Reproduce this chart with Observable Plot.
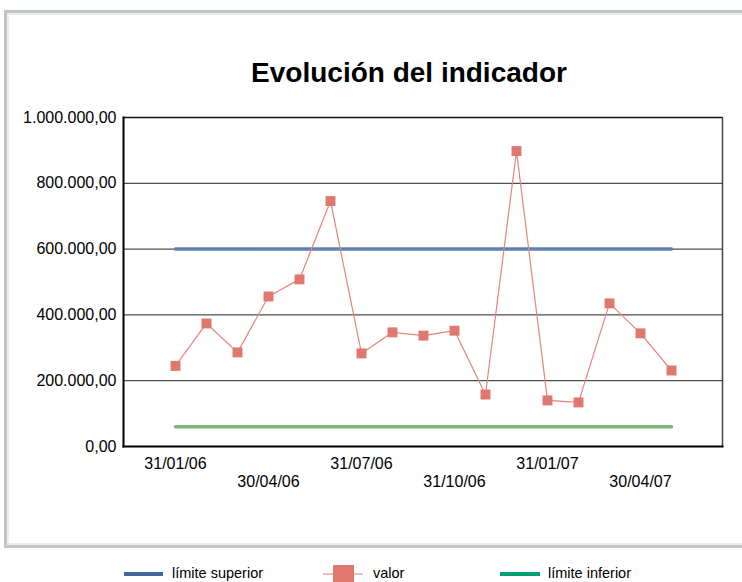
<!DOCTYPE html>
<html>
<head>
<meta charset="utf-8">
<script src="https://cdn.jsdelivr.net/npm/d3@7"></script>
<script src="https://cdn.jsdelivr.net/npm/@observablehq/plot@0.6"></script>
<style>
  html, body { margin: 0; padding: 0; background: #fff; }
  body { width: 742px; height: 582px; position: relative; overflow: hidden; font-family: "Liberation Sans", Arial, sans-serif; }
  #frame { position: absolute; left: 4px; top: 10px; width: 760px; height: 532px;
           border-left: 3px solid #c4c4c4; border-top: 3px solid #c4c4c4; border-bottom: 3px solid #c4c4c4;
           box-shadow: inset 2px 2px 0 #e6edf7, inset 0 -2px 0 #e6edf7; }
  #title { position: absolute; left: 0; width: 818px; top: 57px; text-align: center;
           font-weight: bold; font-size: 28px; color: #000; }
  #chart { position: absolute; left: 0; top: 0; }
  #legend { position: absolute; left: 0; top: 562px; width: 742px; height: 22px; }
  #legend .item { position: absolute; top: 0; height: 22px; display: flex; align-items: center; font-size: 14.5px; color: #000; }
</style>
</head>
<body>
<div id="frame"></div>
<div id="title">Evolución del indicador</div>
<div id="chart"></div>
<div id="legend"></div>
<script>
// ---- data ----
const dates = ["31/01/06","28/02/06","31/03/06","30/04/06","31/05/06","30/06/06","31/07/06","31/08/06","30/09/06","31/10/06","30/11/06","31/12/06","31/01/07","28/02/07","31/03/07","30/04/07","31/05/07"];
const valor = [245000, 374000, 286000, 456000, 508000, 746000, 283000, 347000, 337000, 352000, 158000, 898000, 140000, 134000, 435000, 344000, 231000];
const limiteSuperior = 600000;
const limiteInferior = 60000;
const yTicks = [0, 200000, 400000, 600000, 800000, 1000000];
const xLabelsRow1 = ["31/01/06", "31/07/06", "31/01/07"];
const xLabelsRow2 = ["30/04/06", "31/10/06", "30/04/07"];
const seriesNames = ["límite superior", "valor", "límite inferior"];

const rows = dates.map((d, i) => ({date: d, valor: valor[i], sup: limiteSuperior, inf: limiteInferior}));

const es = d3.formatLocale({decimal: ",", thousands: ".", grouping: [3], currency: ["", "€"]});
const fmt = es.format(",.2f");

const font = "Liberation Sans, Arial, sans-serif";

const chart = Plot.plot({
  width: 742,
  height: 500,
  marginLeft: 123,
  marginRight: 20,
  marginTop: 117,
  marginBottom: 54,
  style: {fontFamily: font, fontSize: "16px", background: "transparent", color: "#000"},
  x: {type: "point", domain: dates, padding: 1.6, axis: null},
  y: {domain: [0, 1000000], axis: null},
  marks: [
    // gridlines
    Plot.ruleY(yTicks.filter(t => t > 0 && t < 1000000), {stroke: "#222", strokeWidth: 1}),
    // frame top/right
    Plot.ruleY([1000000], {stroke: "#111", strokeWidth: 1.5}),
    Plot.frame({stroke: "#444", strokeWidth: 1.5, anchor: "right"}),
    // axis lines
    Plot.frame({stroke: "#000", strokeWidth: 2, anchor: "left"}),
    Plot.frame({stroke: "#000", strokeWidth: 2, anchor: "bottom"}),
    // y tick labels
    Plot.text(yTicks, {y: d => d, text: d => fmt(d), frameAnchor: "left", textAnchor: "end", dx: -7, fontSize: 16, fill: "#000"}),
    // x labels (two staggered rows)
    Plot.text(xLabelsRow1, {x: d => d, text: d => d, frameAnchor: "bottom", dy: 22, fontSize: 16, fill: "#000"}),
    Plot.text(xLabelsRow2, {x: d => d, text: d => d, frameAnchor: "bottom", dy: 40, fontSize: 16, fill: "#000"}),
    // limits
    Plot.line(rows, {x: "date", y: "sup", stroke: "#6080ad", strokeWidth: 3.5}),
    Plot.line(rows, {x: "date", y: "inf", stroke: "#7db67a", strokeWidth: 3.5}),
    // valor
    Plot.line(rows, {x: "date", y: "valor", stroke: "#e8837c", strokeWidth: 1.2}),
    Plot.dot(rows, {x: "date", y: "valor", symbol: "square", r: 5.6, fill: "#e07870", stroke: "none"})
  ]
});
document.getElementById("chart").appendChild(chart);

// ---- legend ----
const legend = document.getElementById("legend");
const legendItems = [
  {name: seriesNames[0], left: 124, svg: '<svg width="48" height="22"><line x1="0" x2="39" y1="12" y2="12" stroke="#41679b" stroke-width="4"/></svg>'},
  {name: seriesNames[1], left: 322, svg: '<svg width="51" height="22"><line x1="1" x2="41" y1="12" y2="12" stroke="#e07870" stroke-width="1.2"/><rect x="11" y="3" width="21" height="19" fill="#e07870"/></svg>'},
  {name: seriesNames[2], left: 500, svg: '<svg width="48" height="22"><line x1="0" x2="40" y1="12" y2="12" stroke="#00a171" stroke-width="4"/></svg>'}
];
for (const it of legendItems) {
  const el = document.createElement("div");
  el.className = "item";
  el.style.left = it.left + "px";
  el.innerHTML = it.svg + "<span>" + it.name + "</span>";
  legend.appendChild(el);
}
</script>
</body>
</html>
